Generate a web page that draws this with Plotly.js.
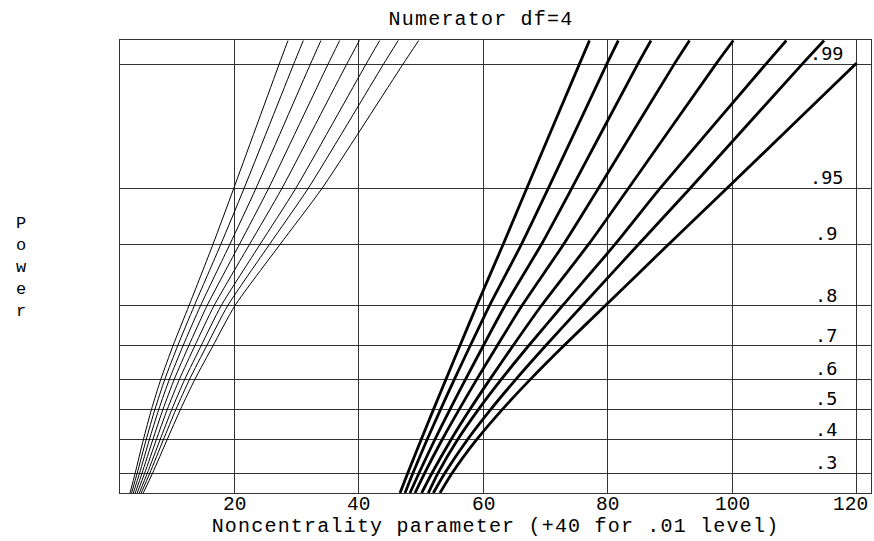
<!DOCTYPE html>
<html><head><meta charset="utf-8">
<script src="https://cdn.plot.ly/plotly-3.0.1.min.js"></script>
<style>
html,body{margin:0;padding:0;background:#fff;}
#chart{width:874px;height:541px;}
.gtitle,.xtitle{letter-spacing:1.2px;}
</style></head><body><div id="chart"></div>
<script>
// power levels at which every curve was read (bottom edge, grid lines, top edge)
const powerLevels = [0.2457, 0.3, 0.4, 0.5, 0.6, 0.7, 0.8, 0.9, 0.95, 0.99, 0.993];
// horizontal grid lines of the power scale and their labels
const gridPowers = [0.3, 0.4, 0.5, 0.6, 0.7, 0.8, 0.9, 0.95, 0.99];
const gridLabels = ['.3', '.4', '.5', '.6', '.7', '.8', '.9', '.95', '.99'];
// the chart's non-linear power scale: height of each grid line above the bottom
const gridScale = [20.0, 53.1, 83.8, 114.1, 147.5, 187.8, 249.0, 305.1, 429.4];
const xTickVals = [20, 40, 60, 80, 100, 120];
const xTickText = ['20', '40', '60', '80', '100', '120'];

// .05 level curves (thin), one per denominator df
const thin1 = [3.25, 4.08, 5.38, 6.70, 8.21, 10.15, 12.73, 16.57, 19.91, 27.20, 28.63];
const thin2 = [3.50, 4.41, 5.83, 7.25, 8.85, 10.91, 13.59, 17.83, 21.57, 29.53, 31.09];
const thin3 = [3.78, 4.79, 6.34, 7.87, 9.59, 11.77, 14.59, 19.28, 23.48, 32.21, 33.92];
const thin4 = [4.09, 5.19, 6.89, 8.54, 10.37, 12.69, 15.64, 20.82, 25.51, 35.05, 36.93];
const thin5 = [4.41, 5.61, 7.46, 9.24, 11.20, 13.66, 16.76, 22.45, 27.65, 38.05, 40.10];
const thin6 = [4.75, 6.04, 8.06, 9.97, 12.06, 14.67, 17.91, 24.13, 29.87, 41.15, 43.37];
const thin7 = [5.05, 6.44, 8.59, 10.63, 12.83, 15.57, 18.96, 25.65, 31.87, 43.96, 46.33];
const thin8 = [5.38, 6.88, 9.19, 11.36, 13.69, 16.58, 20.12, 27.35, 34.09, 47.08, 49.63];

// .01 level curves (thick, +40)
const thick1 = [46.63, 47.88, 50.00, 52.01, 54.02, 56.25, 58.96, 63.19, 66.98, 75.43, 77.07];
const thick2 = [47.43, 48.71, 50.95, 53.15, 55.38, 57.90, 61.01, 66.13, 70.45, 79.82, 81.70];
const thick3 = [48.23, 49.68, 52.19, 54.66, 57.17, 60.01, 63.50, 69.34, 74.21, 84.80, 86.95];
const thick4 = [49.04, 50.59, 53.37, 56.14, 58.98, 62.24, 66.23, 72.89, 78.49, 90.66, 93.14];
const thick5 = [50.11, 51.77, 54.80, 57.87, 61.09, 64.78, 69.36, 76.91, 83.31, 97.35, 100.18];
const thick6 = [51.17, 52.73, 55.85, 59.24, 62.93, 67.29, 72.75, 81.17, 88.40, 105.37, 108.69];
const thick7 = [51.98, 53.84, 57.42, 61.21, 65.28, 70.02, 75.93, 84.93, 93.22, 111.21, 114.75];
const thick8 = [53.05, 55.01, 58.90, 63.08, 67.61, 72.94, 79.63, 89.75, 99.12, 119.79, 120.00];
const thick8Power = [0.2457, 0.3, 0.4, 0.5, 0.6, 0.7, 0.8, 0.9, 0.95, 0.99, 0.9902];

const labelX = 115.1;

function probit(p){
  const a=[-3.969683028665376e+01,2.209460984245205e+02,-2.759285104469687e+02,1.383577518672690e+02,-3.066479806614716e+01,2.506628277459239e+00];
  const b=[-5.447609879822406e+01,1.615858368580409e+02,-1.556989798598866e+02,6.680131188771972e+01,-1.328068155922803e+01];
  const c=[-7.784894002430293e-03,-3.223964580411365e-01,-2.400758277161838e+00,-2.549732539343734e+00,4.374664141464968e+00,2.938163982698783e+00];
  const d=[7.784695709041462e-03,3.224671290700398e-01,2.445134137142996e+00,3.754408661907416e+00];
  const pl=0.02425; let q,r;
  if(p<pl){q=Math.sqrt(-2*Math.log(p));return (((((c[0]*q+c[1])*q+c[2])*q+c[3])*q+c[4])*q+c[5])/((((d[0]*q+d[1])*q+d[2])*q+d[3])*q+1);}
  if(p>1-pl){q=Math.sqrt(-2*Math.log(1-p));return -(((((c[0]*q+c[1])*q+c[2])*q+c[3])*q+c[4])*q+c[5])/((((d[0]*q+d[1])*q+d[2])*q+d[3])*q+1);}
  q=p-0.5;r=q*q;return (((((a[0]*r+a[1])*r+a[2])*r+a[3])*r+a[4])*r+a[5])*q/(((((b[0]*r+b[1])*r+b[2])*r+b[3])*r+b[4])*r+1);
}
const gridZ = gridPowers.map(probit);
function posOf(p){
  const z = probit(p);
  let i = 0;
  while (i < gridZ.length - 2 && z > gridZ[i+1]) i++;
  const t = (z - gridZ[i]) / (gridZ[i+1] - gridZ[i]);
  return gridScale[i] + t * (gridScale[i+1] - gridScale[i]);
}

const thinSet = [thin1, thin2, thin3, thin4, thin5, thin6, thin7, thin8];
const thickSet = [thick1, thick2, thick3, thick4, thick5, thick6, thick7];
const traces = [];
thinSet.forEach(xs => traces.push({x: xs, y: powerLevels.map(posOf), mode: 'lines',
  line: {color: '#000', width: 1, shape: 'spline', smoothing: 0.6}, hoverinfo: 'skip', showlegend: false}));
thickSet.forEach(xs => traces.push({x: xs, y: powerLevels.map(posOf), mode: 'lines',
  line: {color: '#000', width: 2.8, shape: 'spline', smoothing: 0.6}, hoverinfo: 'skip', showlegend: false}));
traces.push({x: thick8, y: thick8Power.map(posOf), mode: 'lines',
  line: {color: '#000', width: 2.8, shape: 'spline', smoothing: 0.6}, hoverinfo: 'skip', showlegend: false});

const mono = 'Liberation Mono, Courier New, monospace';
const annotations = gridPowers.map((p, i) => ({
  x: labelX, y: posOf(p), xref: 'x', yref: 'y', text: gridLabels[i], showarrow: false,
  xanchor: 'center', yanchor: 'bottom', yshift: -2,
  font: {family: 'DejaVu Sans Mono, monospace', size: 18.5, color: '#000'}
}));
xTickVals.forEach((v, i) => annotations.push({
  x: v, y: 0, xref: 'x', yref: 'paper', text: xTickText[i], showarrow: false,
  xanchor: 'center', yanchor: 'top', yshift: 1, xshift: (v === 120 ? -6 : 0),
  font: {family: mono, size: 19.5, color: '#000'}
}));
annotations.push({xref: 'paper', yref: 'paper', x: -0.1305, y: 0.4987, xanchor: 'center', yanchor: 'middle',
  text: 'P<br>o<br>w<br>e<br>r', showarrow: false, font: {family: mono, size: 17, color: '#000'}});

const layout = {
  width: 874, height: 541,
  margin: {l: 120, r: 3, t: 40, b: 48, pad: 0},
  paper_bgcolor: '#fff', plot_bgcolor: '#fff',
  title: {text: 'Numerator df=4', x: 481/874, xanchor: 'center', xref: 'container',
    yref: 'container', y: 1 - 17.5/541, yanchor: 'middle',
    font: {family: mono, size: 20, color: '#000'}},
  xaxis: {range: [1.64, 122.3], tickvals: xTickVals, showticklabels: false, ticks: '',
    showgrid: true, gridcolor: '#333', gridwidth: 1, zeroline: false,
    showline: true, mirror: true, linecolor: '#333', linewidth: 1,
    title: {text: 'Noncentrality parameter (+40 for .01 level)', standoff: 24,
      font: {family: mono, size: 20, color: '#000'}}},
  yaxis: {range: [0, 453.8], tickvals: gridPowers.map(posOf), showticklabels: false, ticks: '',
    showgrid: true, gridcolor: '#333', gridwidth: 1, zeroline: false,
    showline: true, mirror: true, linecolor: '#333', linewidth: 1},
  annotations: annotations,
  showlegend: false
};
Plotly.newPlot('chart', traces, layout, {staticPlot: true, displayModeBar: false});
</script></body></html>
